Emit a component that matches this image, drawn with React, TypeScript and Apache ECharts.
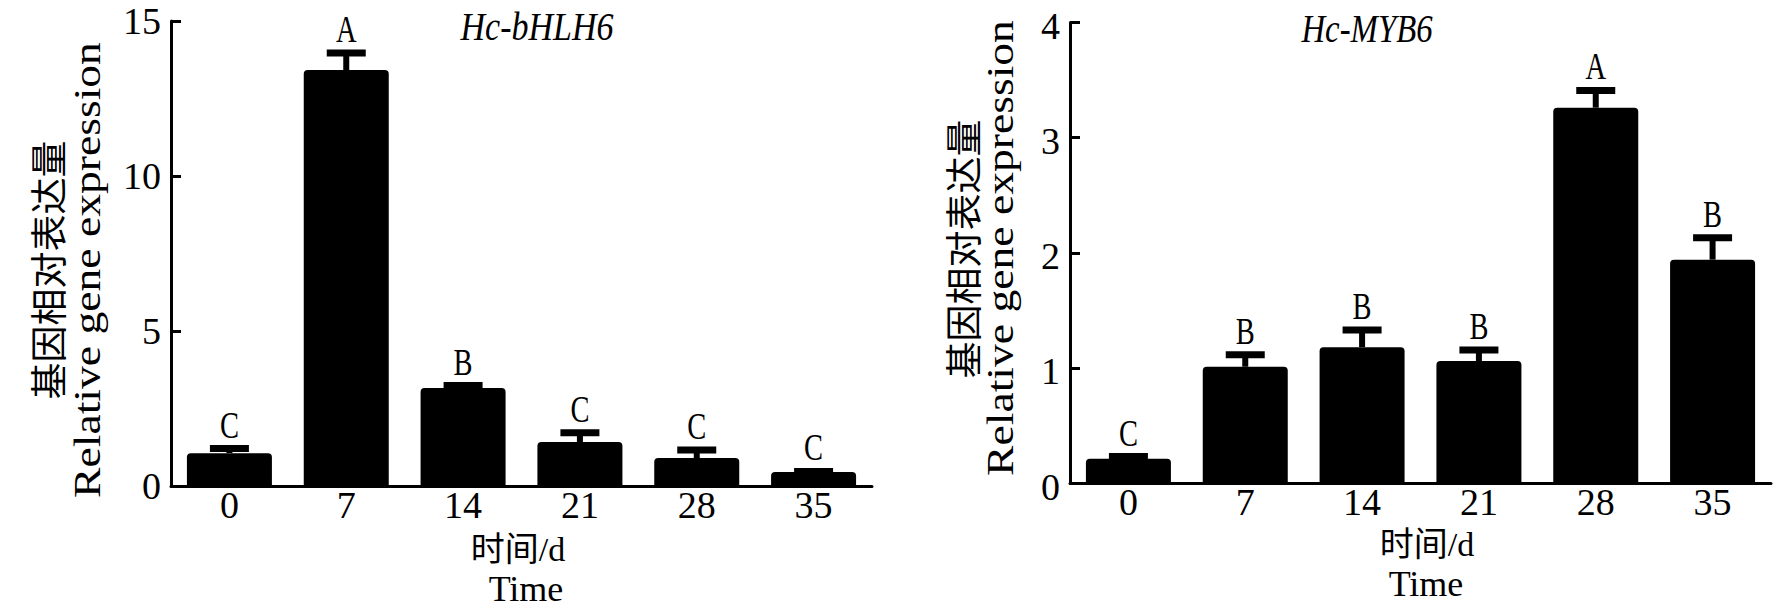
import React, { useEffect, useRef } from 'react';
import * as echarts from 'echarts';

// ---- data ----
const days = ['0', '7', '14', '21', '28', '35'];

const bhlhMean = [1.06, 13.42, 3.16, 1.42, 0.9, 0.45];
const bhlhUpper = [1.21, 13.97, 3.24, 1.72, 1.16, 0.47];
const bhlhSig = ['C', 'A', 'B', 'C', 'C', 'C'];

const mybMean = [0.21, 1.01, 1.18, 1.06, 3.26, 1.94];
const mybUpper = [0.23, 1.115, 1.33, 1.155, 3.41, 2.13];
const mybSig = ['C', 'B', 'B', 'B', 'A', 'B'];

const bhlhTitle = 'Hc-bHLH6';
const mybTitle = 'Hc-MYB6';
const yTitleCn = '基因相对表达量';
const yTitleEn = 'Relative gene expression';
const xTitleCn = '时间/d';
const xTitleEn = 'Time';

const SERIF = "'Liberation Serif', 'Times New Roman', serif";
const MIXED = "'Liberation Serif', 'Noto Sans CJK SC', serif";
const CJK = "'Noto Sans CJK SC', sans-serif";

function errorSeries(gridIdx: number, mean: number[], upper: number[], sig: string[]) {
  return {
    type: 'custom',
    xAxisIndex: gridIdx,
    yAxisIndex: gridIdx,
    clip: false,
    z: 3,
    data: days.map((_, i) => [i, mean[i], upper[i]]),
    renderItem: (params: any, api: any) => {
      const i = api.value(0);
      const pTop = api.coord([i, api.value(1)]);
      const pErr = api.coord([i, api.value(2)]);
      const capW = 39;
      const capH = 7;
      const stemW = 6;
      const capTop = pErr[1] - capH / 2;
      return {
        type: 'group',
        children: [
          {
            type: 'rect',
            shape: { x: pTop[0] - stemW / 2, y: pErr[1], width: stemW, height: Math.max(0, pTop[1] - pErr[1]) },
            style: { fill: '#000' },
          },
          {
            type: 'rect',
            shape: { x: pErr[0] - capW / 2, y: capTop, width: capW, height: capH },
            style: { fill: '#000' },
          },
          {
            type: 'text',
            x: pErr[0],
            y: capTop - 8 - 12.5,
            scaleX: 0.75,
            style: {
              text: sig[params.dataIndex],
              textAlign: 'center',
              textVerticalAlign: 'middle',
              fontSize: 38,
              fontFamily: SERIF,
              fill: '#000',
            },
          },
        ],
      };
    },
  };
}

function barSeries(gridIdx: number, mean: number[]) {
  return {
    type: 'bar',
    xAxisIndex: gridIdx,
    yAxisIndex: gridIdx,
    data: mean,
    barWidth: 85,
    itemStyle: { color: '#000', borderRadius: [4, 4, 0, 0] },
    z: 2,
  };
}

function xAxisCfg(gridIdx: number) {
  return {
    type: 'category',
    gridIndex: gridIdx,
    data: days,
    axisLine: { show: true, lineStyle: { color: '#000', width: 3 } },
    axisTick: { show: false },
    axisLabel: { color: '#000', fontSize: 38, fontFamily: SERIF, margin: 4, lineHeight: 30 },
    splitLine: { show: false },
  };
}

function yAxisCfg(gridIdx: number, max: number, interval: number, shift: number) {
  return {
    type: 'value',
    gridIndex: gridIdx,
    min: 0,
    max,
    interval,
    axisLine: { show: true, lineStyle: { color: '#000', width: 3 } },
    axisTick: { show: true, inside: true, length: 10, lineStyle: { color: '#000', width: 3 } },
    axisLabel: {
      color: '#000',
      margin: 10,
      formatter: '{v|{value}}',
      rich: {
        v: {
          fontSize: 38,
          fontFamily: SERIF,
          color: '#000',
          lineHeight: 30,
          padding: [shift, 0, 0, 0],
        },
      },
    },
    splitLine: { show: false },
  };
}

function vText(text: string, x: number, y: number, font: string, size: number, sx = 1) {
  return {
    type: 'text',
    x,
    y,
    rotation: Math.PI / 2,
    scaleX: sx,
    style: { text, textAlign: 'center', textVerticalAlign: 'middle', fontSize: size, fontFamily: font, fill: '#000' },
  };
}

function hText(text: string, x: number, y: number, font: string, size: number, opts: any = {}) {
  return {
    type: 'text',
    x,
    y,
    scaleX: opts.sx ?? 1,
    scaleY: opts.sy ?? 1,
    style: {
      text,
      textAlign: 'center',
      textVerticalAlign: 'middle',
      fontSize: size,
      fontFamily: font,
      fontStyle: opts.italic ? 'italic' : 'normal',
      fill: '#000',
    },
  };
}

export default function App() {
  const ref = useRef<HTMLDivElement>(null);

  useEffect(() => {
    if (!ref.current) return;
    const chart = echarts.init(ref.current, undefined, { renderer: 'svg' });
    chart.setOption({
      animation: false,
      backgroundColor: '#fff',
      grid: [
        { left: 171, top: 21, width: 701, height: 465 },
        { left: 1070, top: 17, width: 701, height: 466 },
      ],
      xAxis: [xAxisCfg(0), xAxisCfg(1)],
      yAxis: [yAxisCfg(0, 15, 5, 0), yAxisCfg(1, 4, 1, 7)],
      series: [
        barSeries(0, bhlhMean),
        errorSeries(0, bhlhMean, bhlhUpper, bhlhSig),
        barSeries(1, mybMean),
        errorSeries(1, mybMean, mybUpper, mybSig),
      ],
      graphic: [
        hText(bhlhTitle, 537, 27, SERIF, 40, { italic: true, sx: 0.85 }),
        hText(mybTitle, 1367, 28, SERIF, 40, { italic: true, sx: 0.82 }),
        vText(yTitleCn, 47, 270, CJK, 37),
        vText(yTitleEn, 87, 270, SERIF, 38, 1.2),
        vText(yTitleCn, 962, 249, CJK, 37),
        vText(yTitleEn, 1000, 248, SERIF, 38, 1.2),
        hText(xTitleCn, 518, 549, MIXED, 34),
        hText(xTitleEn, 526, 589, SERIF, 36),
        hText(xTitleCn, 1427, 544, MIXED, 34),
        hText(xTitleEn, 1426, 584, SERIF, 36),
      ],
    });
    return () => chart.dispose();
  }, []);

  return (
    <div
      ref={ref}
      style={{ position: 'fixed', left: 0, top: 0, width: 1786, height: 611, background: '#fff' }}
    />
  );
}
